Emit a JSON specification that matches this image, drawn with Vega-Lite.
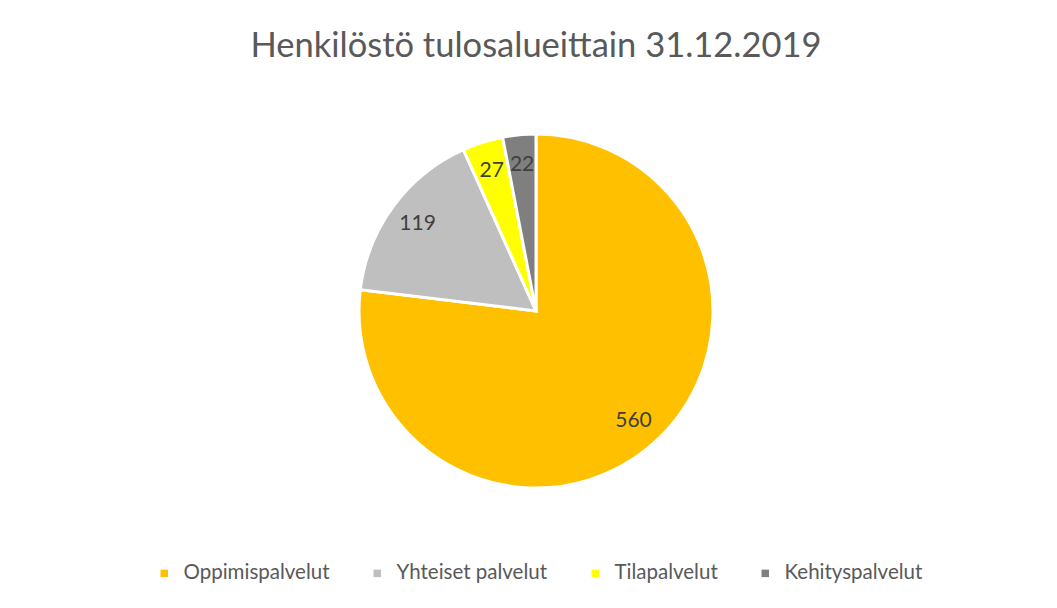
{
  "$schema": "https://vega.github.io/schema/vega-lite/v6.json",
  "autosize": "none",
  "width": 1042,
  "height": 422,
  "padding": {"left": 15, "top": 100, "right": 0, "bottom": 86},
  "background": "white",
  "title": {
    "text": "Henkilöstö tulosalueittain 31.12.2019",
    "font": "Lato",
    "fontSize": 34.5,
    "fontWeight": "normal",
    "color": "#595959",
    "anchor": "middle",
    "baseline": "alphabetic",
    "offset": 9
  },
  "data": {
    "values": [
      {"alue": "Oppimispalvelut", "hlo": 560, "ord": 1},
      {"alue": "Yhteiset palvelut", "hlo": 119, "ord": 2},
      {"alue": "Tilapalvelut", "hlo": 27, "ord": 3},
      {"alue": "Kehityspalvelut", "hlo": 22, "ord": 4}
    ]
  },
  "encoding": {
    "theta": {"field": "hlo", "type": "quantitative", "stack": true},
    "order": {"field": "ord", "type": "quantitative"},
    "color": {
      "field": "alue",
      "type": "nominal",
      "scale": {
        "domain": ["Oppimispalvelut", "Yhteiset palvelut", "Tilapalvelut", "Kehityspalvelut"],
        "range": ["#FFC000", "#BFBFBF", "#FFFF00", "#7F7F7F"]
      },
      "legend": {
        "title": null,
        "orient": "none",
        "direction": "horizontal",
        "legendX": 139,
        "legendY": 463,
        "symbolType": "square",
        "symbolSize": 56,
        "symbolStrokeWidth": 0,
        "labelFont": "Lato",
        "labelFontSize": 20.5,
        "labelColor": "#595959",
        "labelOffset": 9,
        "columnPadding": 37,
        "labelLimit": 300
      }
    }
  },
  "layer": [
    {
      "mark": {"type": "arc", "outerRadius": 177, "stroke": "white", "strokeWidth": 3}
    },
    {
      "mark": {"type": "text", "radius": 147, "font": "Lato", "fontSize": 21, "color": "#404040"},
      "encoding": {
        "text": {"field": "hlo", "type": "quantitative"},
        "color": {"value": "#404040"}
      }
    }
  ],
  "config": {"view": {"stroke": null}}
}
